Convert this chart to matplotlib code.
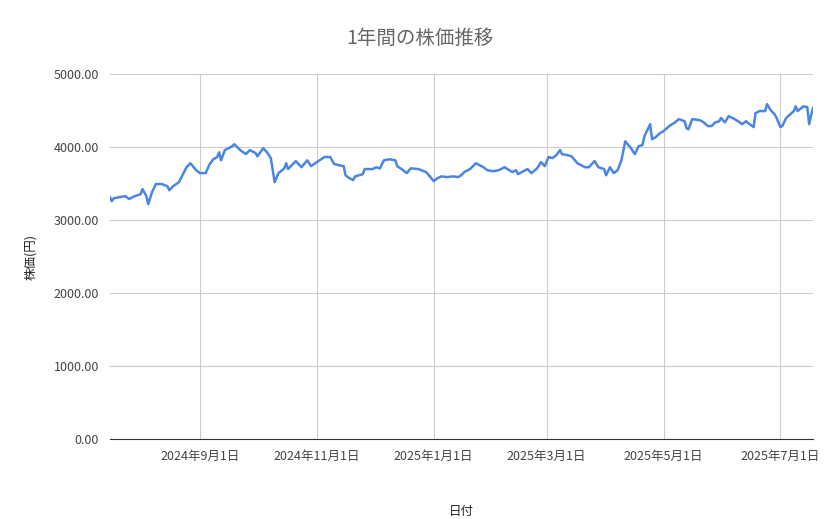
import matplotlib
matplotlib.use("Agg")
import matplotlib.pyplot as plt
import pandas as pd

plt.rcParams['font.family'] = ['Noto Sans CJK JP', 'DejaVu Sans']

start_date = "2024-07-16"
day_offsets = [0,1,2,5,8,10,13,16,17,19,20,22,24,27,30,31,33,36,40,42,45,47,50,52,54,56,57,58,60,64,65,68,71,73,76,77,80,82,84,86,88,91,92,93,97,100,103,105,108,112,115,117,120,122,123,125,127,128,132,133,137,139,141,143,146,149,150,153,155,157,161,165,167,169,171,173,176,179,182,184,185,188,191,194,195,197,200,203,206,210,212,213,215,218,220,223,225,227,229,231,233,235,236,239,241,244,248,250,253,255,258,259,261,263,265,267,269,272,274,276,278,279,282,283,285,287,289,292,295,297,300,301,302,304,308,310,312,314,316,318,319,321,323,325,328,330,332,334,336,337,339,342,343,345,347,348,350,351,353,357,358,359,362,364,365,366,367]
prices = [3315,3260,3300,3315,3330,3290,3330,3355,3425,3330,3220,3385,3495,3495,3465,3410,3465,3520,3725,3780,
          3685,3645,3645,3765,3835,3865,3930,3820,3960,4015,4040,3960,3905,3960,3920,3875,3985,3930,3850,3520,
          3645,3710,3780,3700,3810,3725,3820,3740,3795,3865,3865,3770,3750,3740,3615,3575,3550,3600,3630,3700,
          3700,3725,3710,3820,3835,3820,3740,3685,3645,3710,3700,3660,3600,3535,3575,3600,3590,3600,3590,3630,
          3660,3700,3780,3740,3725,3685,3670,3685,3725,3660,3685,3630,3660,3700,3645,3710,3795,3740,3865,3850,
          3890,3960,3905,3890,3875,3780,3725,3725,3810,3725,3700,3615,3725,3645,3685,3820,4080,3985,3905,4015,
          4030,4150,4315,4110,4140,4190,4220,4290,4340,4385,4355,4260,4245,4385,4370,4340,4290,4290,4340,4355,
          4400,4340,4425,4400,4355,4315,4355,4315,4275,4465,4495,4495,4590,4505,4450,4400,4275,4290,4400,4495,
          4560,4495,4560,4550,4315,4440,4535]
xtick_dates = ["2024-09-01","2024-11-01","2025-01-01","2025-03-01","2025-05-01","2025-07-01"]
xtick_labels = ["2024年9月1日","2024年11月1日","2025年1月1日","2025年3月1日","2025年5月1日","2025年7月1日"]
yticks = [0,1000,2000,3000,4000,5000]

dates = pd.to_datetime(start_date) + pd.to_timedelta(day_offsets, unit="D")

fig = plt.figure(figsize=(8.39,5.19), dpi=100)
ax = fig.add_axes([0.131,0.154,0.838,0.703])
ax.plot(dates, prices, color="#4a86e0", lw=1.8)
ax.set_xlim(dates[0], dates[-1])
ax.set_ylim(0,5000)
ax.set_yticks(yticks)
ax.set_yticklabels([f"{v:.2f}" for v in yticks])
ax.set_xticks(pd.to_datetime(xtick_dates))
ax.set_xticklabels(xtick_labels)
ax.grid(True, color="#cccccc", lw=0.8)
ax.tick_params(length=0, colors="#444444", labelsize=9, pad=8)
for s in ["top","right","left"]:
    ax.spines[s].set_visible(False)
ax.spines["bottom"].set_color("#333333")
ax.set_xlabel("日付", fontsize=9, color="#222222", labelpad=30)
ax.set_ylabel("株価(円)", fontsize=9, color="#222222", labelpad=12)
fig.text(0.5, 0.925, "1年間の株価推移", ha="center", va="center", fontsize=14, color="#666666")
fig.savefig("out.png")
